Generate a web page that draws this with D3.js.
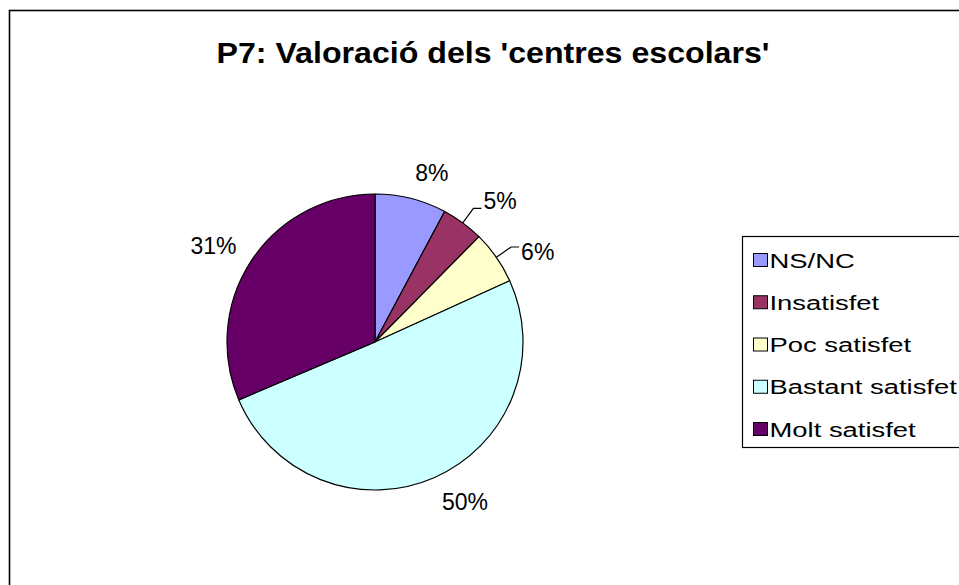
<!DOCTYPE html>
<html>
<head>
<meta charset="utf-8">
<script src="https://cdn.jsdelivr.net/npm/d3@7"></script>
<style>
  body { margin: 0; background: #fff; }
  svg { display: block; font-family: "Liberation Sans", Arial, sans-serif; }
</style>
</head>
<body>
<div id="chart"></div>
<script>
// Chart data
var title = "P7: Valoració dels 'centres escolars'";
var categories = ["NS/NC", "Insatisfet", "Poc satisfet", "Bastant satisfet", "Molt satisfet"];
var values = [7.8, 4.6, 5.8, 50.4, 31.4];
var colors = ["#9999FF", "#993366", "#FFFFCC", "#CCFFFF", "#660066"];

function stretch(sel, factor) {
  // widen text like the original rendering
  sel.each(function() {
    var w = this.getComputedTextLength();
    d3.select(this).attr("textLength", w * factor).attr("lengthAdjust", "spacingAndGlyphs");
  });
}

function createChart(divID) {
  var width = 959, height = 585;
  var chart = d3.select("#" + divID).append("svg")
      .attr("width", width)
      .attr("height", height);

  chart.append("rect")
      .attr("width", width).attr("height", height)
      .attr("fill", "#fff");

  // outer chart border (runs past the right/bottom of the window)
  chart.append("rect")
      .attr("x", 9.5).attr("y", 10.5)
      .attr("width", width + 20).attr("height", height + 20)
      .attr("fill", "none")
      .attr("stroke", "#000")
      .attr("stroke-width", 1.6);

  chart.append("text")
      .attr("x", 493).attr("y", 63)
      .attr("text-anchor", "middle")
      .style("font-size", "29px")
      .style("font-weight", "bold")
      .attr("textLength", 553)
      .attr("lengthAdjust", "spacingAndGlyphs")
      .text(title);

  var data = categories.map(function(c, i) {
    return { name: c, value: values[i], color: colors[i] };
  });
  var total = d3.sum(values);

  var cx = 375, cy = 342, radius = 148;
  var pie = d3.pie().sort(null).value(function(d) { return d.value; });
  var arc = d3.arc().innerRadius(0).outerRadius(radius);
  var arcs = pie(data);

  var g = chart.append("g")
      .attr("transform", "translate(" + cx + "," + cy + ")");

  g.selectAll("path.slice")
      .data(arcs)
    .enter().append("path")
      .attr("class", "slice")
      .attr("d", arc)
      .attr("fill", function(d) { return d.data.color; })
      .attr("stroke", "#000")
      .attr("stroke-width", 1.2)
      .attr("stroke-linejoin", "round");

  // Labels
  var labelR = radius + 18;
  arcs.forEach(function(d) {
    var a = (d.startAngle + d.endAngle) / 2;
    var s = Math.sin(a), c = Math.cos(a);
    var ax = s * labelR, ay = -c * labelR;
    var pct = Math.round(d.data.value / total * 100) + "%";
    var anchor = s > 0.2 ? "start" : (s < -0.2 ? "end" : "middle");
    var tx = ax;
    var small = d.data.value / total < 0.07;
    if (small) {
      var ex = s * radius, ey = -c * radius;
      g.append("path")
          .attr("d", "M" + ex + "," + ey + "L" + ax + "," + ay + "H" + (ax + 8))
          .attr("fill", "none")
          .attr("stroke", "#000")
          .attr("stroke-width", 1.2);
      tx = ax + 10;
    }
    var ty = Math.abs(c) > 0.7 ? ay - c * 9 : ay + s * 6;
    g.append("text")
        .attr("x", tx)
        .attr("y", ty)
        .attr("dy", "0.36em")
        .attr("text-anchor", anchor)
        .style("font-size", "23px")
        .text(pct);
  });

  // Legend
  var lx = 742.5, ly = 236.5, rowH = 42.25;
  chart.append("rect")
      .attr("x", lx).attr("y", ly)
      .attr("width", 260).attr("height", 211)
      .attr("fill", "#fff")
      .attr("stroke", "#000")
      .attr("stroke-width", 1.2);

  var item = chart.selectAll("g.legend")
      .data(data)
    .enter().append("g")
      .attr("class", "legend")
      .attr("transform", function(d, i) { return "translate(" + lx + "," + (ly + 30.5 + i * rowH) + ")"; });

  item.append("rect")
      .attr("x", 11).attr("y", -13.5)
      .attr("width", 14).attr("height", 13)
      .attr("fill", function(d) { return d.color; })
      .attr("stroke", "#000")
      .attr("stroke-width", 1);

  item.append("text")
      .attr("x", 27)
      .attr("y", 0.5)
      .style("font-size", "20px")
      .text(function(d) { return d.name; })
      .call(stretch, 1.37);
}

createChart("chart");
</script>
</body>
</html>
